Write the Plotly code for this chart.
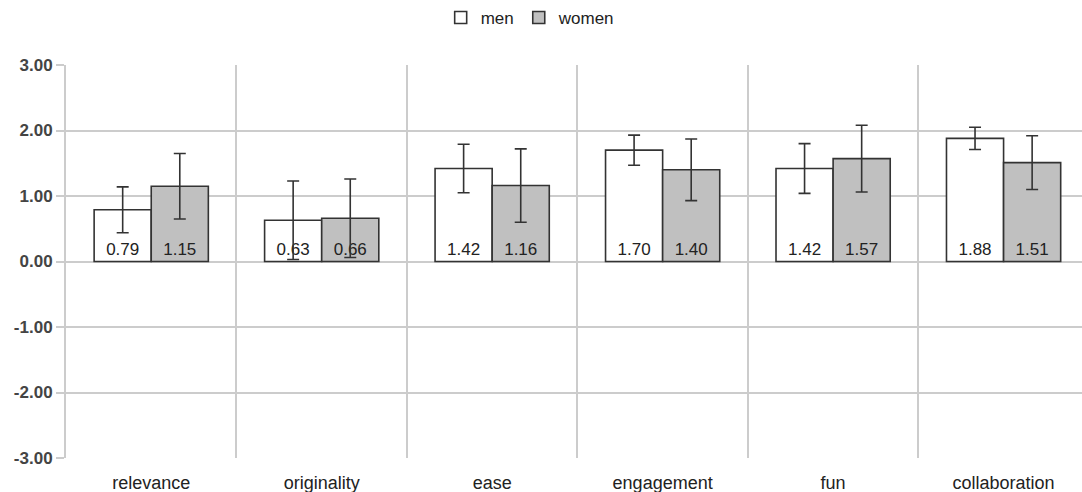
import plotly.graph_objects as go

categories = ["relevance", "originality", "ease", "engagement", "fun", "collaboration"]
men = [0.79, 0.63, 1.42, 1.70, 1.42, 1.88]
women = [1.15, 0.66, 1.16, 1.40, 1.57, 1.51]
men_err = [0.35, 0.60, 0.37, 0.23, 0.38, 0.17]
women_err = [0.50, 0.60, 0.56, 0.47, 0.51, 0.41]
y_ticks = [-3, -2, -1, 0, 1, 2, 3]
y_tick_labels = ["%.2f" % v for v in y_ticks]  # plain hyphen for negatives

font_family = "Liberation Sans, Arial, sans-serif"
edge = "#333333"


def bar_trace(name, values, errors, fill):
    return go.Bar(
        name=name,
        x=categories,
        y=values,
        marker=dict(color=fill, line=dict(color=edge, width=1.6)),
        error_y=dict(type="data", array=errors, visible=True,
                     color=edge, thickness=1.6, width=6),
        texttemplate="%{y:.2f}",
        textposition="inside",
        insidetextanchor="start",
        textangle=0,
        textfont=dict(family=font_family, size=17, color="#222222"),
        constraintext="none",
        hoverinfo="skip",
    )


fig = go.Figure()
fig.add_trace(bar_trace("men", men, men_err, "#ffffff"))
fig.add_trace(bar_trace("women", women, women_err, "#c0c0c0"))

fig.update_layout(
    width=1082,
    height=492,
    margin=dict(l=66, r=0, t=65, b=34),
    paper_bgcolor="white",
    plot_bgcolor="white",
    barmode="group",
    bargap=0.33,
    bargroupgap=0,
    font=dict(family=font_family, size=17, color="#222222"),
    legend=dict(
        orientation="h",
        x=0.49, xref="container", xanchor="center",
        y=1.0, yref="container", yanchor="top",
        font=dict(size=17, color="#222222"),
        itemwidth=30,
    ),
    uniformtext=dict(mode=False),
)

fig.update_xaxes(
    type="category",
    range=[-0.5, 5.46],
    tickson="boundaries",
    showgrid=True,
    gridcolor="#cccccc",
    gridwidth=2,
    ticks="",
    ticklabelstandoff=12,
    showline=False,
    tickfont=dict(size=18, color="#222222"),
)

fig.update_yaxes(
    range=[-3, 3],
    tickvals=y_ticks,
    ticktext=y_tick_labels,
    showgrid=True,
    gridcolor="#cccccc",
    gridwidth=2,
    zeroline=False,
    showline=True,
    linecolor="#cccccc",
    linewidth=2,
    ticks="outside",
    ticklen=8,
    tickcolor="#cccccc",
    tickwidth=2,
    tickfont=dict(size=17, color="#444444", weight="bold"),
)

fig.write_html("out.html")
